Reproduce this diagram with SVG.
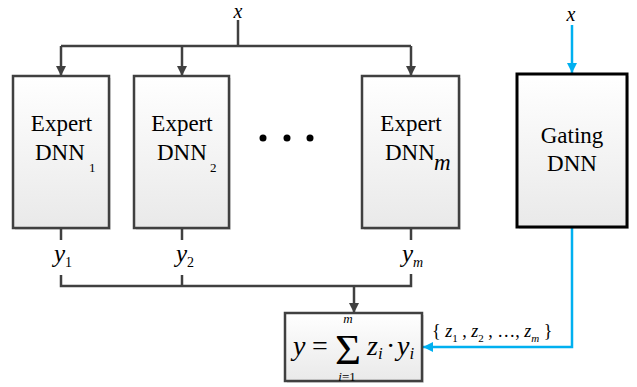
<svg xmlns="http://www.w3.org/2000/svg" width="637" height="387" viewBox="0 0 637 387">
<defs>
<linearGradient id="g" x1="0" y1="0" x2="0" y2="1">
<stop offset="0" stop-color="#ffffff"/>
<stop offset="1" stop-color="#e9e9e9"/>
</linearGradient>
<marker id="ah" viewBox="0 0 10 10" refX="10" refY="5" markerWidth="10" markerHeight="10" markerUnits="userSpaceOnUse" orient="auto">
<path d="M0,0 L10,5 L0,10 Z" fill="#404040"/>
</marker>
<marker id="ab" viewBox="0 0 10 10" refX="10" refY="5" markerWidth="10" markerHeight="10" markerUnits="userSpaceOnUse" orient="auto">
<path d="M0,0 L10,5 L0,10 Z" fill="#00b0f0"/>
</marker>
</defs>
<style>
.box{fill:url(#g);stroke:#404040;stroke-width:2.5}
.gbox{fill:url(#g);stroke:#000;stroke-width:3}
.sh{fill:#000;opacity:0.12}
text{font-family:"Liberation Serif","Times New Roman",Tinos,"DejaVu Serif","Noto Serif",serif;fill:#000}
.i{font-style:italic}
.ln{fill:none;stroke:#404040;stroke-width:2.5}
.bl{fill:none;stroke:#00b0f0;stroke-width:2.5}
</style>
<g id="connectors">
<path class="ln" d="M238,20 V46"/>
<path class="ln" d="M61,46 H411"/>
<path class="ln" d="M61,46 V76" marker-end="url(#ah)"/>
<path class="ln" d="M182,46 V76" marker-end="url(#ah)"/>
<path class="ln" d="M411,46 V76" marker-end="url(#ah)"/>
<path class="ln" d="M61,228 V240"/>
<path class="ln" d="M182,228 V240"/>
<path class="ln" d="M411,228 V240"/>
<path class="ln" d="M61,275 V286 H411 V274"/>
<path class="ln" d="M182,275 V286"/>
<path class="ln" d="M354,286 V313" marker-end="url(#ah)"/>
<path class="bl" d="M572,25 V73" marker-end="url(#ab)"/>
<path class="bl" d="M572,227 V347 H423" marker-end="url(#ab)"/>
</g>
<g id="labels">
<text class="i" x="238" y="18" font-size="20" text-anchor="middle">x</text>
<text class="i" x="571" y="21" font-size="20" text-anchor="middle">x</text>
<text class="i" x="54" y="262" font-size="25">y<tspan font-style="normal" font-size="14" dy="5">1</tspan></text>
<text class="i" x="176" y="262" font-size="25">y<tspan font-style="normal" font-size="14" dy="5">2</tspan></text>
<text class="i" x="402" y="262" font-size="25">y<tspan font-size="14" dy="5">m</tspan></text>
<text x="432" y="337" font-size="18">{ <tspan class="i">z</tspan><tspan font-size="11" dy="5">1</tspan><tspan dy="-5"> , </tspan><tspan class="i">z</tspan><tspan font-size="11" dy="5">2</tspan><tspan dy="-5"> , …, </tspan><tspan class="i">z</tspan><tspan class="i" font-size="11" dy="5">m</tspan><tspan dy="-5">  }</tspan></text>
</g>
<g id="dots">
<circle cx="263" cy="138" r="3.5" fill="#000"/>
<circle cx="287" cy="138" r="3.5" fill="#000"/>
<circle cx="310" cy="138" r="3.5" fill="#000"/>
</g>
<g id="expert1">
<rect class="sh" x="15" y="78" width="96" height="152"/>
<rect class="box" x="13" y="76" width="96" height="152"/>
<text x="61.5" y="131" font-size="23" text-anchor="middle">Expert</text>
<text x="35" y="160" font-size="23">DNN</text>
<text x="89" y="172" font-size="13">1</text>
</g>
<g id="expert2">
<rect class="sh" x="136" y="78" width="95" height="152"/>
<rect class="box" x="134" y="76" width="95" height="152"/>
<text x="182" y="131" font-size="23" text-anchor="middle">Expert</text>
<text x="157" y="160" font-size="23">DNN</text>
<text x="210" y="172" font-size="13">2</text>
</g>
<g id="expertm">
<rect class="sh" x="364" y="78" width="97" height="152"/>
<rect class="box" x="362" y="76" width="97" height="152"/>
<text x="411" y="131" font-size="23" text-anchor="middle">Expert</text>
<text x="385" y="160" font-size="23">DNN</text>
<text class="i" x="434" y="170" font-size="23">m</text>
</g>
<g id="gating">
<rect class="sh" x="519" y="76" width="110" height="153"/>
<rect class="gbox" x="517" y="74" width="110" height="153"/>
<text x="572" y="143" font-size="23" text-anchor="middle">Gating</text>
<text x="572" y="171" font-size="23" text-anchor="middle">DNN</text>
</g>
<g id="sum">
<rect class="sh" x="287" y="315" width="137" height="68"/>
<rect class="box" x="285" y="313" width="137" height="68"/>
<text class="i" x="293" y="355" font-size="28">y</text>
<text x="312" y="355" font-size="28">=</text>
<text x="335" y="364" font-size="42" textLength="26" lengthAdjust="spacingAndGlyphs">Σ</text>
<text class="i" x="348" y="323" font-size="13" text-anchor="middle">m</text>
<text class="i" x="347" y="381" font-size="13" text-anchor="middle">i<tspan font-style="normal">=1</tspan></text>
<text class="i" x="367" y="355" font-size="28">z<tspan font-size="17" dy="4">i</tspan></text>
<text x="386" y="355" font-size="28">·</text>
<text class="i" x="397" y="355" font-size="28">y<tspan font-size="17" dy="4">i</tspan></text>
</g>
</svg>
